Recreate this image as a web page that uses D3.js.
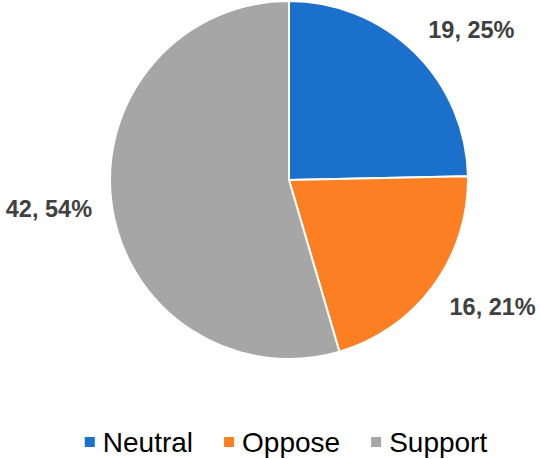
<!DOCTYPE html>
<html><head><meta charset="utf-8">
<script src="https://cdn.jsdelivr.net/npm/d3@7"></script>
<style>html,body{margin:0;padding:0;background:#fff;}</style>
</head><body>
<svg id="chart" width="540" height="459"></svg>
<script>
const categories = ["Neutral", "Oppose", "Support"];
const values = [19, 16, 42];
const percentLabels = ["25%", "21%", "54%"];
const colors = ["#1b70cb", "#fd7f23", "#a6a6a6"];

const svg = d3.select("#chart");
const W = 540, H = 459;
const cx = 289, cy = 180, R = 179;
const font = "'Liberation Sans', Arial, sans-serif";

const data = categories.map((c, i) => ({cat: c, value: values[i], pct: percentLabels[i], color: colors[i]}));
const pie = d3.pie().value(d => d.value).sort(null);
const arcs = pie(data);
const arc = d3.arc().innerRadius(0).outerRadius(R);

const g = svg.append("g").attr("transform", `translate(${cx},${cy})`);
g.selectAll("path.slice").data(arcs).join("path")
  .attr("class", "slice")
  .attr("d", arc)
  .attr("fill", d => d.data.color)
  .attr("stroke", "#fff")
  .attr("stroke-width", 2)
  .attr("stroke-linejoin", "round");

// data labels (outside end)
const fs = 23.5, cap = 17;
g.selectAll("text.lbl").data(arcs).join("text")
  .attr("class", "lbl")
  .each(function(d) {
    const a = (d.startAngle + d.endAngle) / 2;
    const dx = Math.sin(a), dy = -Math.cos(a);
    const r = R + 20;
    const px = dx * r, py = dy * r;
    let anchor = "middle";
    if (dx > 0.3) anchor = "start"; else if (dx < -0.3) anchor = "end";
    let by;
    if (dy < -0.3) by = py; else if (dy > 0.3) by = py + cap; else by = py + cap / 2;
    d3.select(this)
      .attr("x", px).attr("y", by)
      .attr("text-anchor", anchor);
  })
  .attr("font-family", font)
  .attr("font-size", fs)
  .attr("font-weight", "bold")
  .attr("fill", "#404040")
  .text(d => `${d.data.value}, ${d.data.pct}`);

// legend
const leg = svg.append("g");
const items = leg.selectAll("g.item").data(data).join("g").attr("class", "item");
items.append("rect").attr("width", 10).attr("height", 10).attr("y", -5).attr("fill", d => d.color);
items.append("text").attr("x", 18).attr("y", 10)
  .attr("font-family", font).attr("font-size", 28).attr("fill", "#000")
  .text(d => d.cat);
let xoff = 0;
const gap = 31;
items.each(function() {
  const t = d3.select(this).select("text").node();
  const w = 18 + t.getComputedTextLength();
  d3.select(this).attr("transform", `translate(${xoff},0)`);
  xoff += w + gap;
});
const total = xoff - gap;
leg.attr("transform", `translate(${286 - total / 2},442)`);
</script>
</body></html>
